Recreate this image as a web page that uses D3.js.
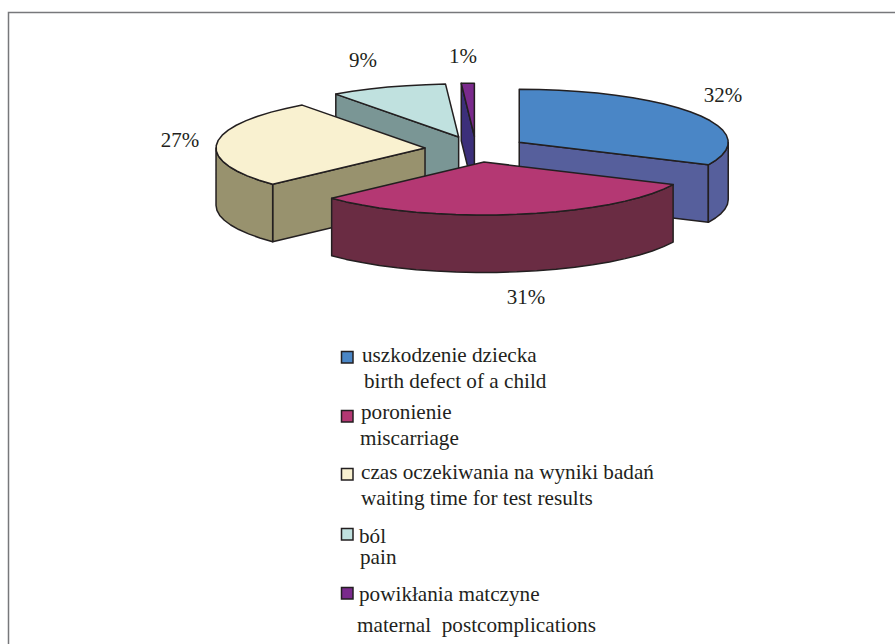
<!DOCTYPE html>
<html>
<head>
<meta charset="utf-8">
<script src="https://cdn.jsdelivr.net/npm/d3@7"></script>
<style>
  html, body { margin: 0; padding: 0; background: #fff; }
  svg { display: block; }
  text { font-family: "Liberation Serif", serif; fill: #231f20; }
</style>
</head>
<body>
<div id="chart"></div>
<script>
"use strict";

// Chart values
var shares = [32, 31, 27, 9, 1];
var namesPl = ["uszkodzenie dziecka", "poronienie", "czas oczekiwania na wyniki badań", "ból", "powikłania matczyne"];
var namesEn = ["birth defect of a child", "miscarriage", "waiting time for test results", "pain", "maternal  postcomplications"];

// Slice colours: top face, side faces
var topColors = ["#4a86c6", "#b43873", "#f9f1d0", "#c0e1df", "#7a2a8c"];
var sideColors = ["#565f9c", "#6a2c43", "#98926e", "#7a9695", "#3c2f7a"];

var width = 895, height = 644;

// Ellipse of the pie in screen space
var cx = 476, cy = 149.2, rx = 209, ry = 53;
var depth = 57.5;
var explode = 0.245;
var edgeColor = "#231f20";

var xScale = d3.scaleLinear().domain([-1, 1]).range([cx - rx, cx + rx]);
var yScale = d3.scaleLinear().domain([-1, 1]).range([cy + ry, cy - ry]);

var svg = d3.select("#chart").append("svg")
  .attr("width", width)
  .attr("height", height);

// Frame, open towards the right and bottom
svg.append("path")
  .attr("d", "M8.5," + height + "V12.5H" + width)
  .attr("fill", "none")
  .attr("stroke", "#77787b")
  .attr("stroke-width", 1.5);

var slices = d3.pie().sort(null)(shares);

var line = d3.line()
  .x(function(d) { return xScale(d[0]); })
  .y(function(d) { return yScale(d[1]) + (d[2] || 0); });

// Point on a slice: polar position in the pie plus the slice's explode offset
function point(slice, angle, radius, drop) {
  var mid = (slice.startAngle + slice.endAngle) / 2;
  return [
    explode * Math.sin(mid) + radius * Math.sin(angle),
    explode * Math.cos(mid) + radius * Math.cos(angle),
    drop
  ];
}

function arcPoints(slice, from, to) {
  return d3.range(0, 1.0001, 1 / Math.max(2, Math.ceil((to - from) / 0.1))).map(function(t) {
    return point(slice, from + (to - from) * t, 1, 0);
  });
}

function face(points, fill) {
  svg.append("path")
    .attr("d", line(points) + "Z")
    .attr("fill", fill)
    .attr("stroke", edgeColor)
    .attr("stroke-width", 1.5)
    .attr("stroke-linejoin", "round");
}

function radialWall(slice, angle, fill) {
  face([
    point(slice, angle, 0, 0),
    point(slice, angle, 1, 0),
    point(slice, angle, 1, depth),
    point(slice, angle, 0, depth)
  ], fill);
}

function drawSlice(i) {
  var slice = slices[i];
  var a0 = slice.startAngle, a1 = slice.endAngle;

  if (Math.sin(a0) < -1e-6) radialWall(slice, a0, sideColors[i]);
  if (Math.sin(a1) > 1e-6) radialWall(slice, a1, sideColors[i]);

  // Outer wall, front half of the rim only
  var from = Math.max(a0, Math.PI / 2), to = Math.min(a1, 3 * Math.PI / 2);
  if (to > from) {
    var rim = arcPoints(slice, from, to);
    var lower = rim.map(function(d) { return [d[0], d[1], depth]; }).reverse();
    face(rim.concat(lower), sideColors[i]);
  }

  // Top face
  face([point(slice, a0, 0, 0)].concat(arcPoints(slice, a0, a1)), topColors[i]);
}

// Back slices first so the front ones overlap them
[3, 4, 0, 2, 1].forEach(drawSlice);

// Percent labels
var pctX = [723, 526, 180, 363, 463];
var pctY = [102, 304, 147, 67, 63];
svg.selectAll("text.pct")
  .data(shares)
  .enter().append("text")
  .attr("class", "pct")
  .attr("x", function(d, i) { return pctX[i]; })
  .attr("y", function(d, i) { return pctY[i]; })
  .attr("text-anchor", "middle")
  .attr("font-size", 21)
  .text(function(d) { return d + "%"; });

// Legend rows
var swatchY = [351, 410, 468, 528, 587];
var plX = [362, 361, 361, 359, 359];
var plY = [362, 419, 479, 543, 601];
var enX = [364, 360, 361, 360, 357];
var enY = [388, 445, 505, 564, 632];

var legend = svg.append("g").attr("class", "legend");

shares.forEach(function(d, i) {
  legend.append("rect")
    .attr("x", 341.5)
    .attr("y", swatchY[i] + 0.5)
    .attr("width", 11.5)
    .attr("height", 11.5)
    .attr("fill", topColors[i])
    .attr("stroke", edgeColor)
    .attr("stroke-width", 1.5);

  legend.append("text")
    .attr("x", plX[i])
    .attr("y", plY[i])
    .attr("font-size", 21.2)
    .text(namesPl[i]);

  legend.append("text")
    .attr("x", enX[i])
    .attr("y", enY[i])
    .attr("font-size", 21.2)
    .style("white-space", "pre")
    .text(namesEn[i]);
});
</script>
</body>
</html>
